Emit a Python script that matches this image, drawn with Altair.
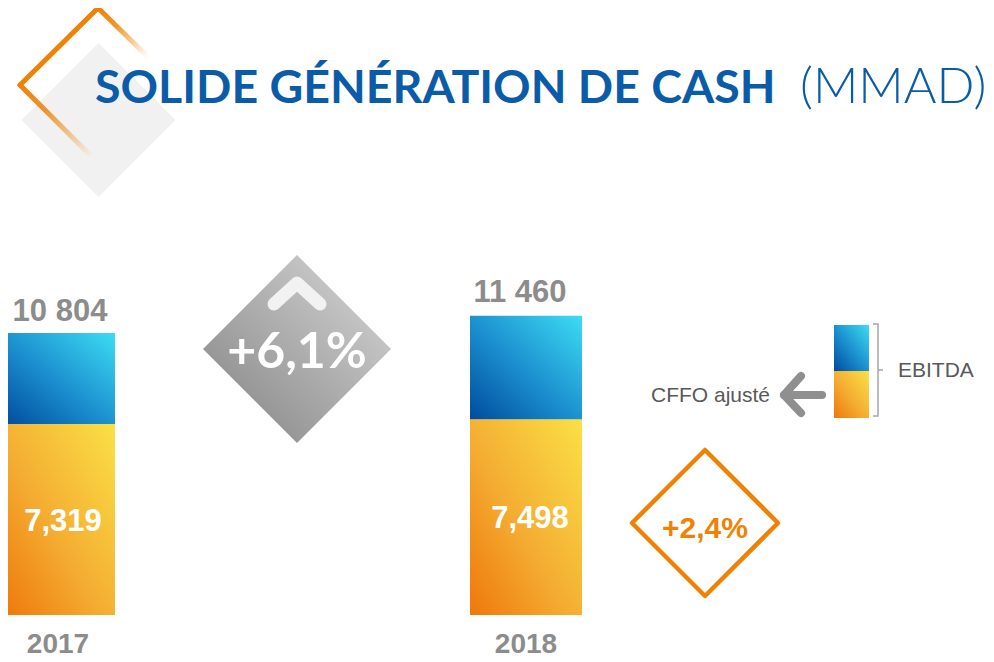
import altair as alt
import pandas as pd

# ---------------- data ----------------
years = ["2017", "2018"]
ebitda = [10804, 11460]
cffo = [7319, 7498]
ebitda_labels = ["10 804", "11 460"]
cffo_labels = ["7,319", "7,498"]
growth_ebitda = ["+6,1%"]
growth_cffo = ["+2,4%"]
title_main = ["SOLIDE GÉNÉRATION DE CASH"]
title_unit = ["(MMAD)"]
legend_top = ["EBITDA"]
legend_bottom = ["CFFO ajusté"]

# ---------------- layout (page pixels) ----------------
W, H = 978, 654
OX, OY = 8, 8
ZERO_Y = 615
PX_PER_UNIT = 0.026102
bar_left = [3, 470]
BAR_W = 112
total_label_x = [60, 520]
total_label_dy = [-12, -14]
cffo_label_x = [63, 530]
cffo_label_dy = [12, 11]
year_label_x = [58, 526]
YEAR_DY = 38

BLUE_T = "#0b5ca8"
GREY_T = "#8c8c8c"
ORANGE = "#ef8205"

v_top = (ZERO_Y - OY) / PX_PER_UNIT
v_bottom = -(OY + H - ZERO_Y) / PX_PER_UNIT

XS = alt.Scale(domain=[OX, OX + W], nice=False, zero=False)
YP = alt.Scale(domain=[OY, OY + H], nice=False, zero=False, reverse=True)
YV = alt.Scale(domain=[v_bottom, v_top], nice=False, zero=False)


def grad(stops, x1=0, y1=1, x2=1, y2=0):
    return {"gradient": "linear", "x1": x1, "y1": y1, "x2": x2, "y2": y2,
            "stops": [{"offset": o, "color": c} for o, c in stops]}


BLUE_G = grad([(0, "#004c9c"), (0.45, "#1a8ccd"), (1, "#3ddcf4")])
ORANGE_G = grad([(0, "#ee780b"), (0.45, "#f4ad32"), (1, "#fbe046")])
GREY_G = grad([(0, "#828282"), (1, "#d8d8d8")])
FADE_G = grad([(0, ORANGE), (0.35, "rgba(239,130,5,0.85)"), (1, "rgba(239,130,5,0)")], 0, 0, 1, 1)


def px_x(f="x"):
    return alt.X(f"{f}:Q", scale=XS, axis=None)


def px_y(f="y"):
    return alt.Y(f"{f}:Q", scale=YP, axis=None)


def pline(pts, **mk):
    df = pd.DataFrame({"x": [p[0] for p in pts], "y": [p[1] for p in pts], "i": list(range(len(pts)))})
    return alt.Chart(df).mark_line(**mk).encode(x=px_x(), y=px_y(), order=alt.Order("i:Q"))


def ptext(label, x, y, **mk):
    df = pd.DataFrame({"label": label, "x": [x], "y": [y]})
    return alt.Chart(df).mark_text(**mk).encode(x=px_x(), y=px_y(), text=alt.Text("label:N"))


def pdiamond(x, y, r, **mk):
    df = pd.DataFrame({"x": [x], "y": [y]})
    return alt.Chart(df).mark_point(shape="diamond", size=(2 * r) ** 2, opacity=1, **mk).encode(
        x=px_x(), y=px_y())


# ---------------- decorations ----------------
deco_grey = pdiamond(98.5, 120, 77, filled=True, fill="#f1f1f1", strokeWidth=0)
deco_a = pline([(20, 85), (98, 8)], stroke=ORANGE, strokeWidth=5, strokeCap="round")
deco_b = pline([(98, 8), (148, 57)], stroke=FADE_G, strokeWidth=5, strokeCap="round")
deco_c = pline([(20, 85), (92, 157)], stroke=FADE_G, strokeWidth=5, strokeCap="round")

t_main = ptext(title_main, 95, 103, align="left", baseline="alphabetic", font="Lato",
               fontSize=46.5, fontWeight="bold", color=BLUE_T)
t_unit = ptext(title_unit, 800, 103, align="left", baseline="alphabetic", font="Lato",
               fontSize=50, fontWeight=300, color=BLUE_T)

g_diam = pdiamond(297, 349, 94, filled=True, fill=GREY_G, strokeWidth=0)
g_chev = pline([(274, 304), (297, 283), (320, 304)], stroke="#f2f2f2", strokeWidth=13,
               strokeCap="round", strokeJoin="round")
g_text = ptext(growth_ebitda, 297, 368, align="center", baseline="alphabetic", font="Lato",
               fontSize=50, fontWeight="bold", color="white")

o_diam = pdiamond(705, 523, 73, filled=False, stroke=ORANGE, strokeWidth=4.5, strokeJoin="round")
o_text = ptext(growth_cffo, 705, 538, align="center", baseline="alphabetic", font="Liberation Sans",
               fontSize=30, fontWeight="bold", color=ORANGE)

# legend
leg_df = pd.DataFrame({"x": [834], "x2": [869], "yb": [325], "ym": [371], "ye": [418]})
leg_blue = alt.Chart(leg_df).mark_rect(fill=BLUE_G, strokeWidth=0).encode(
    x=px_x(), x2="x2:Q", y=px_y("yb"), y2="ym:Q")
leg_orange = alt.Chart(leg_df).mark_rect(fill=ORANGE_G, strokeWidth=0).encode(
    x=px_x(), x2="x2:Q", y=px_y("ym"), y2="ye:Q")
bracket = pline([(873, 324), (878, 324), (878, 416), (873, 416)], stroke="#a6a6a6", strokeWidth=1.5)
bracket_tick = pline([(878, 370), (883, 370)], stroke="#a6a6a6", strokeWidth=1.5)
arrow_shaft = pline([(784, 395), (822, 395)], stroke="#8f8f8f", strokeWidth=8, strokeCap="round")
arrow_head = pline([(801, 376), (784, 395), (801, 413)], stroke="#8f8f8f", strokeWidth=8,
                   strokeCap="round", strokeJoin="round")
leg_t1 = ptext(legend_top, 898, 377, align="left", baseline="alphabetic", font="Liberation Sans",
               fontSize=21, color="#595959")
leg_t2 = ptext(legend_bottom, 770, 402, align="right", baseline="alphabetic", font="Liberation Sans",
               fontSize=21, color="#595959")

# ---------------- bars ----------------
bars = pd.DataFrame({
    "year": years, "ebitda": ebitda, "cffo": cffo,
    "x0": bar_left, "x1": [b + BAR_W for b in bar_left],
    "zero": [0] * len(years), "mid": [c / 2 for c in cffo],
    "tlab": ebitda_labels, "clab": cffo_labels,
    "tx": total_label_x, "cx": cffo_label_x, "yx": year_label_x,
})

bar_orange = alt.Chart(bars).mark_rect(fill=ORANGE_G, strokeWidth=0).encode(
    x=alt.X("x0:Q", scale=XS, axis=None), x2="x1:Q",
    y=alt.Y("zero:Q", scale=YV, axis=None), y2="cffo:Q")
bar_blue = alt.Chart(bars).mark_rect(fill=BLUE_G, strokeWidth=0).encode(
    x=alt.X("x0:Q", scale=XS, axis=None), x2="x1:Q",
    y=alt.Y("cffo:Q", scale=YV, axis=None), y2="ebitda:Q")

tot_layers = []
cf_layers = []
for i in range(len(years)):
    sub = bars.iloc[[i]]
    tot_layers.append(alt.Chart(sub).mark_text(
        align="center", baseline="alphabetic", dy=total_label_dy[i], font="Liberation Sans",
        fontSize=31, fontWeight="bold", color=GREY_T).encode(
        x=alt.X("tx:Q", scale=XS, axis=None), y=alt.Y("ebitda:Q", scale=YV, axis=None),
        text="tlab:N"))
    cf_layers.append(alt.Chart(sub).mark_text(
        align="center", baseline="alphabetic", dy=cffo_label_dy[i], font="Liberation Sans",
        fontSize=31, fontWeight="bold", color="white").encode(
        x=alt.X("cx:Q", scale=XS, axis=None), y=alt.Y("mid:Q", scale=YV, axis=None),
        text="clab:N"))

year_text = alt.Chart(bars).mark_text(
    align="center", baseline="alphabetic", dy=YEAR_DY, font="Liberation Sans",
    fontSize=28, fontWeight="bold", color=GREY_T).encode(
    x=alt.X("yx:Q", scale=XS, axis=None), y=alt.Y("zero:Q", scale=YV, axis=None),
    text="year:N")

chart = alt.layer(
    deco_grey, deco_a, deco_b, deco_c, t_main, t_unit,
    g_diam, g_chev, g_text, o_diam, o_text,
    leg_blue, leg_orange, bracket, bracket_tick, arrow_shaft, arrow_head, leg_t1, leg_t2,
    bar_orange, bar_blue, *tot_layers, *cf_layers, year_text,
).resolve_scale(y="independent").properties(
    width=W, height=H, padding=0,
    autosize=alt.AutoSizeParams(type="none"),
    background="white",
).configure_view(stroke=None)

chart.save("out.html", embed_options={"renderer": "svg", "actions": False})
